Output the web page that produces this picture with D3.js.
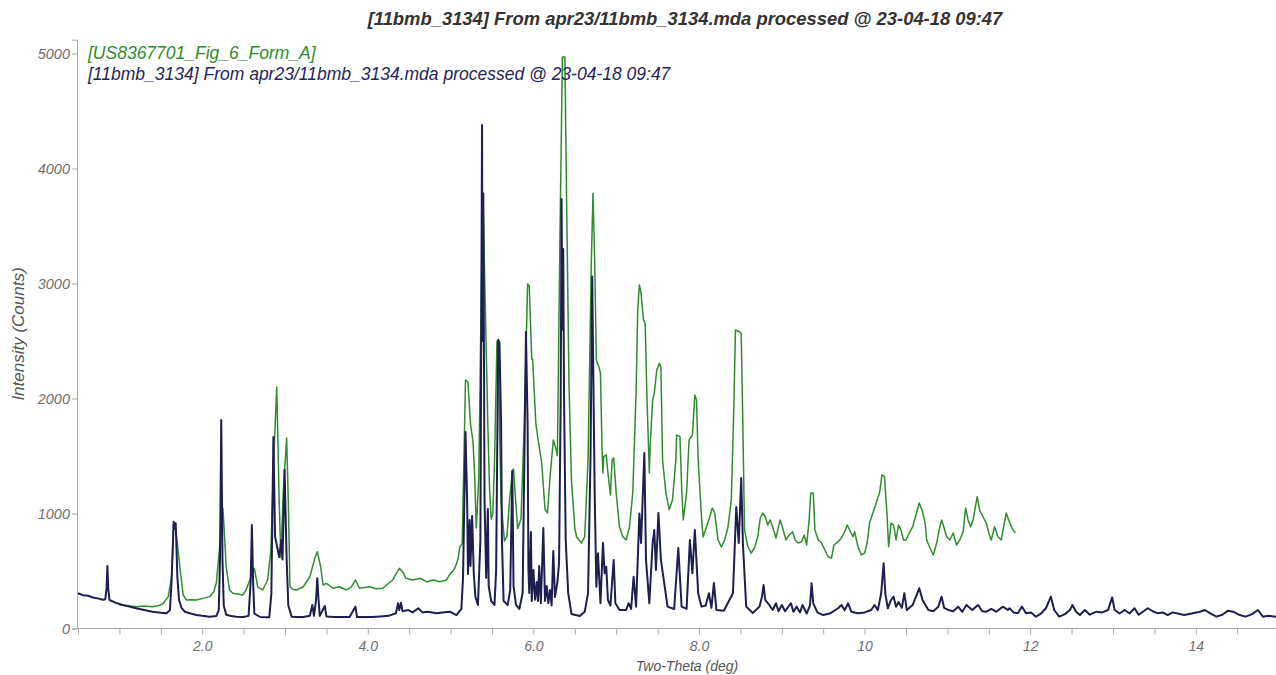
<!DOCTYPE html>
<html>
<head>
<meta charset="utf-8">
<script src="https://cdn.jsdelivr.net/npm/d3@7/dist/d3.min.js"></script>
<style>
  html, body { margin: 0; padding: 0; background: #ffffff; }
  svg { display: block; }
  text { font-family: Arial, "Liberation Sans", sans-serif; }
</style>
</head>
<body>
<svg id="chart" width="1276" height="675"></svg>
<script>
// ---------------- DATA ----------------
const chartTitle = "[11bmb_3134] From apr23/11bmb_3134.mda processed @ 23-04-18 09:47";
const seriesNames = ["[US8367701_Fig_6_Form_A]", "[11bmb_3134] From apr23/11bmb_3134.mda processed @ 23-04-18 09:47"];
const xAxisTitle = "Two-Theta (deg)";
const yAxisTitle = "Intensity (Counts)";
const xTickValues = [0.5,1,1.5,2,2.5,3,3.5,4,4.5,5,5.5,6,6.5,7,7.5,8,8.5,9,9.5,10,10.5,11,11.5,12,12.5,13,13.5,14,14.5,15];
const xTickLabels = {2: "2.0", 4: "4.0", 6: "6.0", 8: "8.0", 10: "10", 12: "12", 14: "14"};
const yTickValues = [0, 1000, 2000, 3000, 4000, 5000];

// Measured pattern (11bmb_3134) : two-theta (deg)
const measuredTheta = [
0.50,0.56,0.62,0.68,0.74,0.80,0.83,0.845,0.855,0.865,0.88,0.95,1.04,1.12,1.20,1.30,1.40,1.50,1.57,1.61,1.63,1.655,1.668,1.68,1.70,1.72,1.75,1.79,1.86,1.93,
2.00,2.09,2.17,2.20,2.215,2.23,2.245,2.26,2.29,2.35,2.41,2.50,2.56,2.585,2.60,2.615,2.63,2.70,2.81,2.835,2.86,2.88,2.93,2.955,2.97,2.995,3.02,3.04,3.08,3.15,
3.22,3.30,3.33,3.35,3.375,3.39,3.405,3.42,3.48,3.50,3.60,3.70,3.78,3.85,3.87,3.95,4.05,4.15,4.25,4.34,4.365,4.38,4.40,4.42,4.49,4.54,4.61,4.66,4.72,4.83,
4.90,4.99,5.07,5.13,5.15,5.18,5.20,5.21,5.23,5.24,5.26,5.28,5.30,5.33,5.36,5.38,5.385,5.395,5.41,5.43,5.45,5.46,5.49,5.53,5.55,5.575,5.59,5.61,5.62,5.64,
5.69,5.72,5.745,5.76,5.79,5.83,5.87,5.89,5.91,5.93,5.94,5.95,5.97,5.98,6.00,6.02,6.04,6.055,6.07,6.09,6.12,6.14,6.16,6.18,6.20,6.22,6.24,6.26,6.29,6.31,
6.33,6.34,6.35,6.36,6.37,6.39,6.42,6.46,6.56,6.62,6.66,6.69,6.71,6.74,6.76,6.78,6.81,6.84,6.86,6.88,6.90,6.93,6.97,6.99,7.04,7.12,7.15,7.18,7.21,7.24,
7.28,7.30,7.34,7.36,7.40,7.44,7.46,7.48,7.51,7.54,7.58,7.62,7.70,7.75,7.79,7.85,7.89,7.92,7.95,7.99,8.03,8.08,8.12,8.15,8.18,8.21,8.30,8.41,8.45,8.48,
8.51,8.53,8.57,8.65,8.73,8.76,8.78,8.80,8.85,8.89,8.93,8.96,9.00,9.04,9.11,9.14,9.18,9.22,9.25,9.30,9.34,9.36,9.38,9.43,9.50,9.58,9.68,9.72,9.76,9.80,
9.84,9.92,10.00,10.08,10.12,10.16,10.20,10.23,10.25,10.28,10.32,10.35,10.38,10.41,10.45,10.48,10.51,10.58,10.62,10.66,10.70,10.77,10.83,10.89,10.93,10.96,11.01,11.07,11.13,11.18,
11.23,11.30,11.37,11.42,11.47,11.53,11.59,11.67,11.73,11.75,11.80,11.85,11.90,11.95,12.01,12.07,12.13,12.19,12.25,12.29,12.35,12.42,12.48,12.51,12.55,12.60,12.66,12.72,12.80,12.87,
12.94,12.99,13.02,13.08,13.14,13.20,13.26,13.31,13.36,13.42,13.48,13.54,13.60,13.66,13.72,13.78,13.86,13.95,14.05,14.11,14.18,14.25,14.32,14.39,14.45,14.53,14.60,14.68,14.75,14.81,
14.88,14.97
];
// Measured pattern (11bmb_3134) : counts
const measuredCounts = [
306,290,285,270,262,250,255,350,543,350,248,225,204,190,176,160,146,136,132,160,400,929,870,915,450,248,180,146,130,117,
110,103,108,160,600,1813,600,200,120,108,103,100,110,400,900,400,130,100,97,300,1665,800,620,770,600,1380,600,200,103,100,
100,110,204,110,250,437,250,110,196,105,100,100,100,190,100,100,100,105,110,132,219,160,224,150,160,140,176,140,145,132,
140,146,117,170,440,1708,1109,474,944,543,978,474,274,205,770,4378,2500,3780,1109,439,1039,370,239,205,509,2511,2483,1778,770,239,
205,335,1370,370,205,170,309,1440,2578,1778,509,309,839,239,509,250,404,240,543,220,874,239,370,220,335,200,674,274,404,570,
2013,3735,2600,3300,2013,770,309,126,109,146,306,1500,3060,1178,363,655,220,743,480,537,248,200,595,220,161,161,220,170,450,190,
1000,743,1526,596,220,743,856,508,1004,596,395,190,170,700,190,170,770,480,856,306,190,200,306,180,395,161,155,306,1057,743,
1309,743,190,135,190,277,378,248,204,161,220,150,204,150,220,145,190,140,204,130,200,393,219,140,117,130,176,204,160,219,
146,132,140,161,204,160,306,567,306,176,248,277,190,230,180,306,160,204,277,350,248,161,150,190,277,180,161,150,190,145,
204,160,204,150,146,170,146,190,161,176,140,132,190,132,140,103,130,176,277,161,103,125,161,204,150,117,161,120,146,140,
161,271,161,130,161,130,176,120,146,176,150,132,140,117,140,130,117,130,146,161,130,103,120,155,146,117,103,125,161,103,
110,103
];

// Reference pattern (US8367701 Fig 6 Form A) : two-theta (deg)
const referenceTheta = [
1.00,1.10,1.20,1.30,1.40,1.48,1.53,1.59,1.63,1.655,1.67,1.69,1.73,1.77,1.81,1.87,1.93,2.01,2.09,2.14,2.17,2.21,2.25,2.27,2.29,2.33,2.37,2.43,2.49,2.53,
2.59,2.63,2.67,2.73,2.79,2.83,2.86,2.90,2.93,2.95,2.98,3.02,3.04,3.06,3.10,3.14,3.22,3.30,3.36,3.39,3.43,3.46,3.50,3.58,3.66,3.74,3.80,3.85,3.90,4.02,
4.10,4.18,4.30,4.38,4.42,4.46,4.54,4.63,4.71,4.79,4.87,4.95,4.99,5.05,5.09,5.11,5.14,5.16,5.18,5.21,5.24,5.27,5.29,5.31,5.34,5.37,5.39,5.42,5.45,5.47,
5.49,5.51,5.53,5.56,5.58,5.59,5.61,5.65,5.68,5.71,5.745,5.76,5.78,5.81,5.85,5.89,5.93,5.95,5.98,5.99,6.03,6.05,6.10,6.14,6.17,6.20,6.24,6.27,6.29,6.32,
6.35,6.38,6.40,6.43,6.46,6.50,6.52,6.58,6.62,6.66,6.70,6.72,6.74,6.76,6.79,6.81,6.83,6.84,6.85,6.88,6.90,6.93,6.95,6.97,7.00,7.04,7.08,7.12,7.16,7.20,
7.24,7.26,7.28,7.30,7.33,7.35,7.37,7.40,7.41,7.44,7.46,7.49,7.52,7.54,7.56,7.60,7.64,7.68,7.72,7.73,7.77,7.79,7.81,7.85,7.88,7.92,7.95,7.97,7.99,8.03,
8.05,8.09,8.13,8.16,8.19,8.23,8.27,8.31,8.35,8.39,8.42,8.44,8.49,8.51,8.53,8.55,8.59,8.63,8.67,8.71,8.74,8.77,8.80,8.83,8.86,8.89,8.93,8.95,8.98,9.01,
9.05,9.09,9.13,9.16,9.20,9.24,9.27,9.30,9.33,9.35,9.38,9.40,9.44,9.48,9.52,9.56,9.60,9.63,9.68,9.72,9.76,9.79,9.82,9.86,9.88,9.92,9.96,10.00,10.03,10.06,
10.10,10.14,10.18,10.21,10.24,10.27,10.29,10.32,10.35,10.38,10.41,10.44,10.47,10.50,10.54,10.58,10.61,10.66,10.70,10.73,10.75,10.79,10.83,10.87,10.90,10.93,10.95,10.99,11.03,11.07,
11.11,11.15,11.19,11.22,11.25,11.28,11.31,11.36,11.39,11.43,11.47,11.50,11.53,11.57,11.61,11.65,11.71,11.74,11.78,11.82
];
// Reference pattern (US8367701 Fig 6 Form A) : counts
const referenceCounts = [
205,200,190,195,190,200,219,277,450,880,917,800,537,291,248,250,248,262,277,320,393,700,1045,800,537,335,306,300,291,335,
450,523,363,335,422,683,1400,2100,1100,620,1200,1657,1100,363,340,335,363,450,610,668,537,378,393,350,363,335,360,422,350,363,
345,350,422,523,494,437,422,437,407,422,407,422,470,522,604,705,739,1442,2161,2143,1778,1630,1343,874,1300,2900,3790,2765,1760,1222,
952,1000,1442,2500,2450,1778,1109,761,800,1100,1370,1387,1170,870,952,1778,2995,2978,2343,2343,1778,1674,1442,1039,1004,1309,1639,1570,1503,3370,
4970,4970,3780,2117,1283,874,798,743,798,1465,3204,3784,3204,2335,2277,2220,1526,1352,1494,1509,1352,1161,1465,1483,1178,883,798,770,883,1178,
2048,2770,2987,2917,2683,2654,2045,1352,1578,1987,2045,2248,2306,2277,1465,1178,1033,1120,1465,1682,1668,1233,944,1178,1639,1682,2030,1987,1465,970,
796,883,970,1048,1004,770,709,770,883,1117,1900,2596,2580,2565,1750,857,711,655,700,798,961,1004,972,900,944,885,787,856,944,874,
770,813,842,770,743,755,813,726,944,1178,1178,856,770,743,683,624,613,726,755,787,842,900,856,798,842,711,639,656,743,917,
1004,1091,1178,1335,1320,1004,711,917,900,770,900,856,770,770,830,885,961,1091,1016,917,770,700,639,743,856,944,900,798,770,830,
726,770,842,1048,944,885,944,1146,1030,972,917,830,770,885,798,770,1004,944,874,830
];

// ---------------- CHART ----------------
const svg = d3.select("#chart");
const W = 1276, H = 675;

const x = d3.scaleLinear().domain([0.5, 15.0]).range([78, 78 + 14.5 * 82.8]);
const y = d3.scaleLinear().domain([0, 5120]).range([628.5, 628.5 - 5120 * 0.115]);

const axisColor = "#a8a8a8";
const tickTextColor = "#6e6e6e";
const greenColor = "#2f8c2f";
const navyColor = "#1e1e50";

svg.append("defs").append("clipPath").attr("id", "plotclip")
  .append("rect").attr("x", 78).attr("y", 0).attr("width", W - 78).attr("height", 629);

// title
svg.append("text")
  .attr("x", 685).attr("y", 25)
  .attr("text-anchor", "middle")
  .style("font-size", "18.4px").style("font-weight", "bold").style("font-style", "italic")
  .style("fill", "#333333")
  .text(chartTitle);

// X axis
const xAxis = d3.axisBottom(x)
  .tickValues(xTickValues)
  .tickSize(6).tickSizeOuter(0)
  .tickFormat(d => xTickLabels[d] !== undefined ? xTickLabels[d] : "");
const gx = svg.append("g").attr("transform", `translate(0,${y(0)})`).call(xAxis);
gx.select(".domain").attr("stroke", axisColor).attr("d", `M${x(0.5)},0H${W}`);
gx.selectAll(".tick line").attr("stroke", axisColor);
gx.selectAll(".tick text")
  .attr("dy", "0.95em")
  .style("font-size", "14px").style("font-style", "italic")
  .style("fill", tickTextColor);

// Y axis
const yAxis = d3.axisLeft(y)
  .tickValues(yTickValues)
  .tickSize(5).tickSizeOuter(5)
  .tickFormat(d3.format("d"));
const gy = svg.append("g").attr("transform", `translate(${x(0.5) - 1},0)`).call(yAxis);
gy.select(".domain").attr("stroke", axisColor);
gy.selectAll(".tick line").attr("stroke", axisColor);
gy.selectAll(".tick text")
  .attr("x", -7)
  .style("font-size", "14.5px").style("font-style", "italic")
  .style("fill", tickTextColor);

// axis titles
svg.append("text")
  .attr("x", 687).attr("y", 671)
  .attr("text-anchor", "middle")
  .style("font-size", "14px").style("font-style", "italic").style("fill", "#555555")
  .text(xAxisTitle);
svg.append("text")
  .attr("transform", `translate(24,334) rotate(-90)`)
  .attr("text-anchor", "middle")
  .style("font-size", "17px").style("font-style", "italic").style("fill", "#555555")
  .text(yAxisTitle);

// lines
const line = d3.line().x(d => x(d[0])).y(d => y(d[1]));
const refData = d3.zip(referenceTheta, referenceCounts);
const measData = d3.zip(measuredTheta, measuredCounts);

const plot = svg.append("g").attr("clip-path", "url(#plotclip)");
plot.append("path").datum(refData)
  .attr("fill", "none").attr("stroke", greenColor).attr("stroke-width", 1.5)
  .attr("stroke-linejoin", "round")
  .attr("d", line);
plot.append("path").datum(measData)
  .attr("fill", "none").attr("stroke", navyColor).attr("stroke-width", 2)
  .attr("stroke-linejoin", "round")
  .attr("d", line);

// legend
const legendColors = [greenColor, "#25255c"];
svg.selectAll("text.legend").data(seriesNames).enter().append("text")
  .attr("class", "legend")
  .attr("x", 88).attr("y", (d, i) => 59 + i * 21)
  .style("font-size", "17.5px").style("font-style", "italic")
  .style("fill", (d, i) => legendColors[i])
  .text(d => d);
</script>
</body>
</html>
